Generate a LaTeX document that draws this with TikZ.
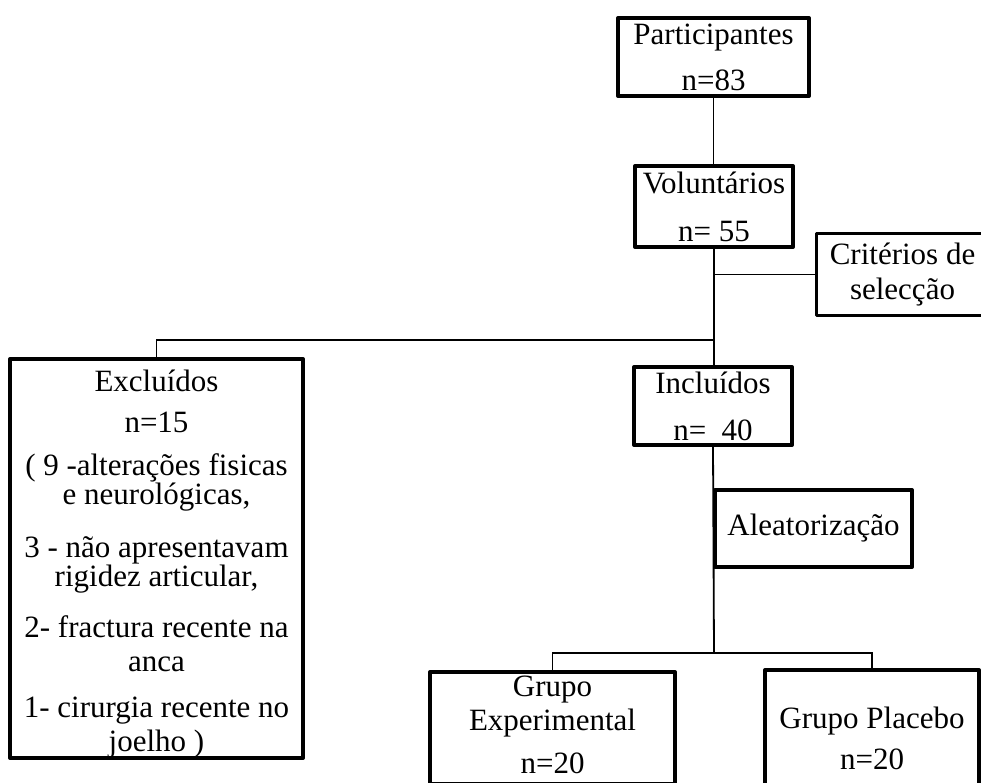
\documentclass[tikz,border=0pt]{standalone}
\usepackage{fontspec}
\setmainfont{Liberation Serif}
\newcommand\boxfont{\fontsize{31}{31}\selectfont\lineskiplimit -50pt\relax}
\begin{document}
\begin{tikzpicture}[x=1pt,y=-1pt,
  box/.style={draw, line width=4pt, align=center, inner sep=0pt,
    font=\boxfont, line join=round},
  thinbox/.style={box, line width=3pt},
  conn/.style={line width=1.8pt}]
\clip (0,0) rectangle (981,782);
\fill[white] (0,0) rectangle (981,782);

\node[box, minimum width=191pt, minimum height=78pt] (part) at (713.5,57) {Participantes\\[15pt]n=83};
\node[box, minimum width=158pt, minimum height=81pt] (vol) at (714,206.5) {Voluntários\\[17pt]n= 55};
\node[thinbox, minimum width=172pt, minimum height=82pt] (crit) at (902.5,274.5) {Critérios de\\[4pt]selecção};
\node[box, minimum width=293pt, minimum height=399pt] (excl) at (156.5,558.5)
  {\rule{0pt}{32pt}Excluídos\\[10pt]n=15\\[12pt]( 9 -alterações fisicas\\[-2pt]e neurológicas,\\[22pt]3 - não apresentavam\\[-2pt]rigidez articular,\\[20pt]2- fractura recente na\\[3pt]anca\\[15pt]1- cirurgia recente no\\[3pt]joelho )};
\node[box, minimum width=158pt, minimum height=78pt] (incl) at (713,406) {Incluídos\\[16pt]n=~~40};
\node[box, minimum width=197pt, minimum height=77pt] (alea) at (813.5,528.5) {Aleatorização};
\node[box, minimum width=245pt, minimum height=112pt] (exper) at (552.5,728) {Grupo\\[3pt]Experimental\\[12pt]n=20\rule[-6pt]{0pt}{6pt}};
\node[box, minimum width=214pt, minimum height=136pt] (plac) at (872,738) {Grupo Placebo\\[10pt]n=20};

\coordinate (jc) at (vol.south |- crit.west);
\coordinate (je) at (714,340);
\coordinate (jg) at (714,653);

\draw[conn] (part.south) -- (part.south |- vol.north);
\draw[conn] (vol.south) -- (vol.south |- incl.north);
\draw[conn] (jc) -- (crit.west);
\draw[conn] (je) -| (excl.north);
\draw[conn] (incl.south) -- (jg);
\draw[conn] (exper.north) |- (jg) -| (plac.north);
\end{tikzpicture}
\end{document}
